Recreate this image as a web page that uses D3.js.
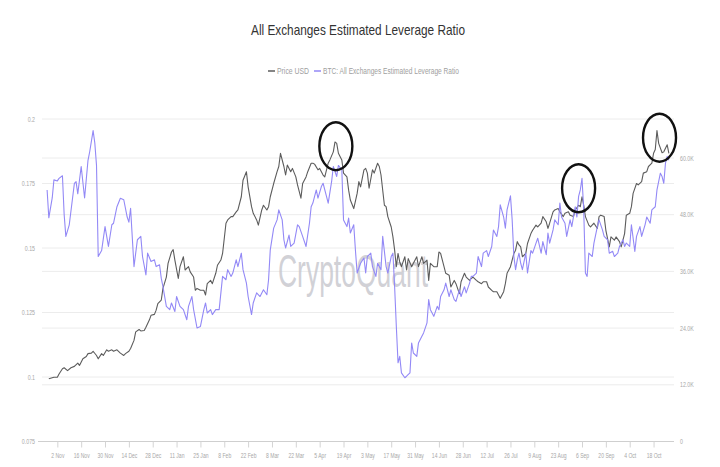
<!DOCTYPE html>
<html><head><meta charset="utf-8">
<script src="https://cdn.jsdelivr.net/npm/d3@7"></script>
<style>
html,body{margin:0;padding:0;background:#fff;}
svg{display:block;font-family:"Liberation Sans Narrow","Liberation Sans",Arial,sans-serif;}
</style></head>
<body>
<svg id="chart" width="720" height="467"></svg>
<script>
// ---- data ----
const startDate = new Date(2020, 9, 27); // day 0
const levDay = [0,1,3,4,6,7,9,10,11,13,16,17,18,20,22,24,25,27,28,29,30,32,34,36,38,39,41,43,45,47,48,49,51,53,55,56,58,59,61,63,64,66,67,68,70,72,73,75,76,78,80,82,83,85,86,88,90,92,93,94,96,97,99,101,103,105,106,108,109,111,112,114,115,117,118,120,121,123,125,127,129,130,131,133,135,136,138,139,140,142,143,145,147,148,150,152,154,155,156,158,159,161,162,164,165,167,168,170,171,173,174,176,177,178,180,181,182,184,186,187,188,190,191,193,194,196,197,199,200,202,203,204,205,206,207,208,210,211,213,214,215,217,218,220,221,223,224,225,227,229,230,231,233,234,236,237,239,240,242,243,245,246,248,249,250,252,253,255,256,258,259,261,262,264,265,266,268,269,270,272,273,274,275,276,277,278,279,281,282,284,285,287,288,290,291,293,294,295,297,298,300,301,302,304,305,307,308,310,311,312,313,314,315,316,317,318,320,321,323,324,326,327,329,330,332,333,335,336,338,339,340,342,343,345,346,348,349,351,352,354,355,357,358,360,361,362,363,364,365];
const levValue = [0.1725,0.1617,0.1694,0.1764,0.176,0.177,0.178,0.163,0.1545,0.159,0.175,0.1757,0.171,0.1816,0.1694,0.184,0.1873,0.1955,0.1907,0.182,0.1467,0.149,0.1583,0.1506,0.159,0.1596,0.166,0.1693,0.1687,0.162,0.160,0.1654,0.1428,0.1532,0.1545,0.1467,0.1396,0.148,0.1448,0.1454,0.1428,0.1435,0.1383,0.135,0.1274,0.1261,0.1287,0.1254,0.1312,0.1274,0.1261,0.1222,0.1274,0.1312,0.1261,0.119,0.1196,0.1261,0.1287,0.1248,0.1261,0.1242,0.1261,0.1261,0.139,0.1377,0.1416,0.139,0.1403,0.1454,0.1428,0.148,0.1416,0.1364,0.1312,0.1242,0.1287,0.1326,0.1312,0.1338,0.1319,0.1377,0.1493,0.1577,0.1609,0.1648,0.1609,0.1532,0.15,0.155,0.1506,0.1519,0.159,0.1583,0.1545,0.1506,0.1596,0.166,0.1674,0.1725,0.1693,0.1738,0.1751,0.170,0.1674,0.1757,0.1816,0.1777,0.182,0.1803,0.1609,0.1583,0.1616,0.1558,0.159,0.149,0.1403,0.1441,0.1461,0.1403,0.1467,0.148,0.1428,0.139,0.1441,0.1416,0.1545,0.1428,0.1403,0.1467,0.148,0.135,0.1196,0.1055,0.108,0.1016,0.0997,0.1003,0.1016,0.1132,0.1093,0.108,0.1132,0.1158,0.1171,0.121,0.13,0.1261,0.1235,0.1274,0.1261,0.1312,0.1338,0.1364,0.1312,0.1338,0.13,0.1293,0.1338,0.1312,0.135,0.1326,0.1364,0.139,0.139,0.1403,0.1467,0.1428,0.148,0.149,0.1467,0.1506,0.157,0.1545,0.1583,0.1667,0.162,0.1577,0.1648,0.1702,0.1609,0.1467,0.1416,0.1454,0.148,0.1441,0.1416,0.148,0.1403,0.149,0.148,0.1519,0.1538,0.148,0.1525,0.1474,0.1558,0.1519,0.157,0.1609,0.159,0.1674,0.162,0.1596,0.1545,0.1609,0.1583,0.166,0.162,0.170,0.1725,0.177,0.1648,0.1403,0.139,0.148,0.1467,0.1519,0.1583,0.1609,0.157,0.1545,0.1532,0.148,0.1487,0.1467,0.148,0.1506,0.1532,0.1506,0.1519,0.1506,0.159,0.1487,0.1545,0.1583,0.1545,0.159,0.162,0.1596,0.1648,0.166,0.1725,0.179,0.1777,0.1751,0.1829,0.1855,0.184];
const priceDay = [1,4,6,7,9,10,12,14,16,18,19,21,23,24,26,27,29,30,32,33,35,36,38,39,41,43,45,46,48,49,51,52,54,55,57,58,60,61,63,64,65,67,68,70,71,73,74,75,77,78,80,81,83,84,86,87,88,90,92,93,94,96,97,99,100,102,103,105,106,108,109,111,112,114,115,117,118,120,121,123,124,126,127,129,130,131,133,135,136,137,139,140,141,143,144,146,147,149,150,152,153,155,156,157,159,160,162,163,165,166,168,169,170,171,173,174,176,177,178,180,182,183,184,186,187,188,189,191,192,194,195,196,198,199,200,202,203,204,205,206,207,208,210,211,212,214,215,217,218,220,221,223,224,225,227,229,230,231,233,234,236,237,239,240,242,243,245,246,248,249,250,252,253,255,256,258,259,261,262,264,265,266,268,269,270,272,274,275,276,277,278,279,281,282,284,285,287,288,290,291,293,294,295,297,298,300,301,303,304,306,307,309,310,312,313,314,315,316,318,319,321,323,324,325,327,328,330,331,333,334,336,337,339,340,342,343,344,346,347,349,350,352,353,355,356,357,358,359,361,362,364,365];
const priceValue = [13300,13600,13600,14300,15400,15600,15000,15600,15900,16600,16100,17500,18000,18600,18700,19100,18200,17500,18600,18200,19400,19100,19400,19100,19400,18700,18200,18600,19100,19700,21400,23200,23700,23400,23500,24200,25700,26700,26900,27800,29200,29900,32400,34800,37700,40100,40600,38400,34500,37000,39100,36300,37000,35900,34800,32000,32400,32000,32000,31000,33400,34100,33400,35600,37300,38400,39800,46200,46900,47600,47600,48600,49000,51800,55300,57100,53900,49700,48300,46900,45800,49000,50000,49000,49700,51800,54600,57100,58200,61000,58200,56400,58500,57100,57800,56000,54300,51500,54600,56000,57100,58900,58900,58700,57500,57800,56400,56000,58900,59600,61300,63400,63100,61000,59600,56800,56000,53200,51100,49300,52500,55000,53900,57500,57800,56800,53600,57500,56800,58900,58200,56400,50000,49700,47600,45400,43300,40500,37000,39800,38000,37000,39100,36300,38700,37000,37700,39100,37000,39100,37700,38400,34100,37700,37000,37000,40100,39800,37000,35600,35200,32700,34100,33400,31300,33800,35600,34800,34100,34500,34800,34100,33800,33400,33800,33800,32700,32000,31700,31700,31000,30300,31700,33400,35600,37000,39800,40500,42300,41600,41200,39100,39800,41900,44000,44700,45800,45400,46200,47600,46500,45100,46200,48600,49000,49300,48600,47600,48300,48600,47900,47600,49000,50000,49700,51800,50000,47600,45800,45400,46200,45100,47600,47900,47600,44700,41200,43300,42600,43300,42300,41200,44000,47900,48300,49700,52500,54600,54300,55000,56800,57100,58200,58900,61000,61800,65800,63100,61100,61300,62800,61000];
const leftTicks = [0.075, 0.1, 0.125, 0.15, 0.175, 0.2];
const leftTickLabels = ["0.075", "0.1", "0.125", "0.15", "0.175", "0.2"];
const rightTicks = [0, 12000, 24000, 36000, 48000, 60000];
const rightTickLabels = ["0", "12.0K", "24.0K", "36.0K", "48.0K", "60.0K"];
const xTickLabels = ["2 Nov","16 Nov","30 Nov","14 Dec","28 Dec","11 Jan","25 Jan","8 Feb","22 Feb","8 Mar","22 Mar","5 Apr","19 Apr","3 May","17 May","31 May","14 Jun","28 Jun","12 Jul","26 Jul","9 Aug","23 Aug","6 Sep","20 Sep","4 Oct","18 Oct"];
const seriesNames = ["Price USD", "BTC: All Exchanges Estimated Leverage Ratio"];
// highlighted peaks (day, price)
const highlightDay = [169.5, 312, 359.5];
const highlightPrice = [62500, 53600, 64300];

// ---- helpers ----
const dayToDate = d => new Date(startDate.getTime() + d * 86400000);
const svg = d3.select("#chart");
const colorPrice = "#5c5c5c", colorLev = "#9389f6";
const condense = (sel, f) => sel.each(function () {
  const w = this.getComputedTextLength();
  d3.select(this).attr("textLength", w * f).attr("lengthAdjust", "spacingAndGlyphs");
});

const x = d3.scaleTime()
  .domain([dayToDate(-3), dayToDate(368)])
  .range([42, 674]);
const yL = d3.scaleLinear().domain([0.075, 0.2]).range([441.5, 119]);
const yR = d3.scaleLinear().domain([0, 60000]).range([441.5, 158]);

// title
svg.append("text").attr("x", 358).attr("y", 35).attr("text-anchor", "middle")
  .attr("font-size", 15).attr("fill", "#333")
  .attr("textLength", 214).attr("lengthAdjust", "spacingAndGlyphs")
  .text("All Exchanges Estimated Leverage Ratio");

// legend
const lg = svg.append("g").attr("transform", "translate(268,71)");
lg.append("line").attr("x1", 0).attr("x2", 7).attr("y1", 0).attr("y2", 0).attr("stroke", colorPrice).attr("stroke-width", 1.5);
lg.append("text").attr("x", 9).attr("y", 3).attr("font-size", 8.5).attr("fill", "#a0a0a0")
  .attr("textLength", 32).attr("lengthAdjust", "spacingAndGlyphs").text(seriesNames[0]);
lg.append("line").attr("x1", 46).attr("x2", 53).attr("y1", 0).attr("y2", 0).attr("stroke", colorLev).attr("stroke-width", 1.5);
lg.append("text").attr("x", 55).attr("y", 3).attr("font-size", 8.5).attr("fill", "#a0a0a0")
  .attr("textLength", 136).attr("lengthAdjust", "spacingAndGlyphs").text(seriesNames[1]);

// gridlines
const grid = svg.append("g");
grid.selectAll(".gl").data(leftTicks.slice(1)).join("line")
  .attr("x1", 42).attr("x2", 674).attr("y1", d => yL(d)).attr("y2", d => yL(d))
  .attr("stroke", "#ececec").attr("stroke-width", 1);
grid.selectAll(".gr").data(rightTicks.slice(1)).join("line")
  .attr("x1", 42).attr("x2", 674).attr("y1", d => yR(d)).attr("y2", d => yR(d))
  .attr("stroke", "#ececec").attr("stroke-width", 1);

// left axis labels
svg.append("g").selectAll("text").data(leftTicks).join("text")
  .attr("x", 35).attr("y", d => yL(d) + 2.5).attr("text-anchor", "end")
  .attr("font-size", 7).attr("fill", "#a8a8a8").text((d, i) => leftTickLabels[i])
  .call(condense, 0.75);
// right axis labels
svg.append("g").selectAll("text").data(rightTicks).join("text")
  .attr("x", 680).attr("y", d => yR(d) + 2.5).attr("text-anchor", "start")
  .attr("font-size", 7).attr("fill", "#a8a8a8").text((d, i) => rightTickLabels[i])
  .call(condense, 0.75);

// x axis
const tickDates = xTickLabels.map((_, i) => dayToDate(6 + 14 * i));
const xAxis = d3.axisBottom(x).tickValues(tickDates).tickSize(6).tickPadding(6)
  .tickFormat((d, i) => xTickLabels[i]);
const gx = svg.append("g").attr("transform", "translate(0,441.5)").call(xAxis);
gx.select(".domain").attr("stroke", "#cfcfcf").attr("d", "M38,0H674");
gx.selectAll(".tick line").attr("stroke", "#d4d4d4");
gx.selectAll(".tick text").attr("fill", "#a8a8a8").attr("font-size", 7)
  .attr("font-family", "'Liberation Sans Narrow','Liberation Sans',Arial,sans-serif")
  .call(condense, 0.72);

// watermark
svg.append("text").attr("x", 353).attr("y", 287).attr("text-anchor", "middle")
  .attr("font-size", 46).attr("fill", "#c9c9cf").attr("fill-opacity", 0.85)
  .attr("textLength", 150).attr("lengthAdjust", "spacingAndGlyphs")
  .attr("font-family", "'Liberation Sans',Arial,sans-serif")
  .text("CryptoQuant");

// lines
const levData = levDay.map((d, i) => ({ date: dayToDate(d), v: levValue[i] }));
const priceData = priceDay.map((d, i) => ({ date: dayToDate(d), v: priceValue[i] }));

svg.append("path").datum(priceData)
  .attr("fill", "none").attr("stroke", colorPrice).attr("stroke-width", 1.1)
  .attr("stroke-linejoin", "round")
  .attr("d", d3.line().x(d => x(d.date)).y(d => yR(d.v)));
svg.append("path").datum(levData)
  .attr("fill", "none").attr("stroke", colorLev).attr("stroke-width", 1.1)
  .attr("stroke-linejoin", "round")
  .attr("d", d3.line().x(d => x(d.date)).y(d => yL(d.v)));

// highlight ellipses
svg.append("g").selectAll("ellipse").data(highlightDay).join("ellipse")
  .attr("cx", d => x(dayToDate(d)))
  .attr("cy", (d, i) => yR(highlightPrice[i]))
  .attr("rx", 16.5).attr("ry", 24)
  .attr("fill", "none").attr("stroke", "#111").attr("stroke-width", 2.4);
</script>
</body></html>
